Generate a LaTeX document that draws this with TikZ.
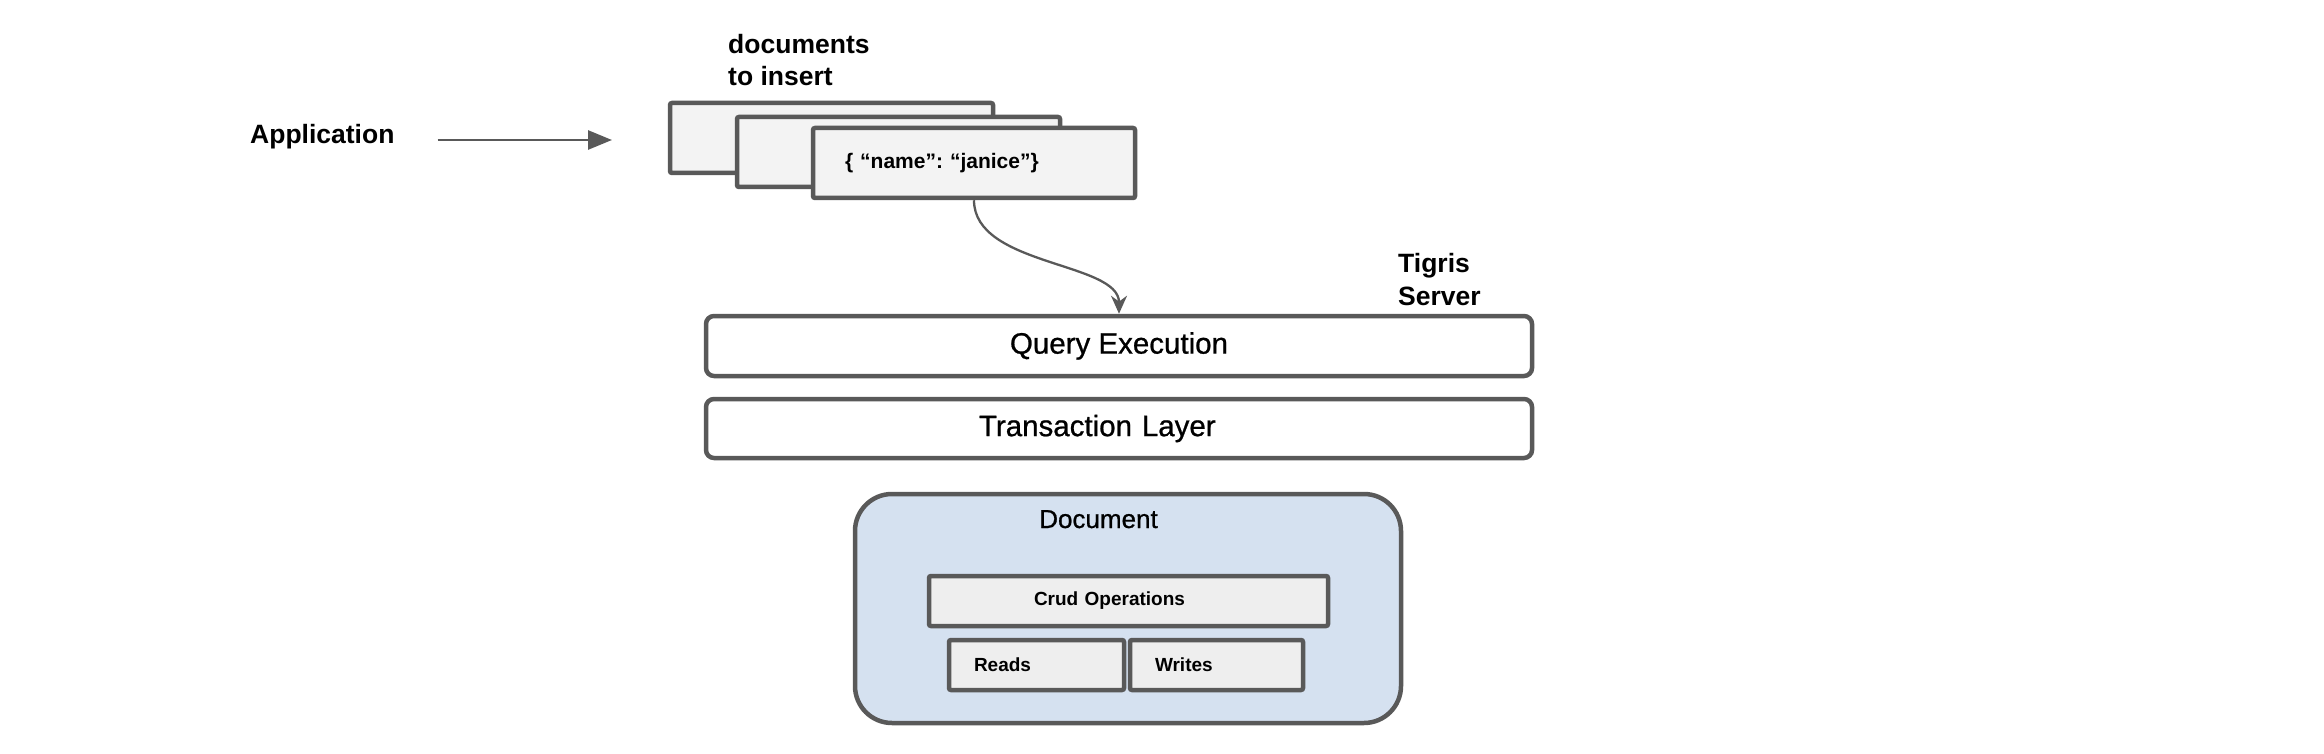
\documentclass[tikz,border=0pt]{standalone}
\usepackage{fontspec}
\setmainfont{Liberation Sans}
\newfontfamily\layerfont[FakeBold=0.8]{Liberation Sans}
\usetikzlibrary{arrows.meta}
\definecolor{edge}{HTML}{595959}
\definecolor{cardfill}{HTML}{F3F3F3}
\definecolor{opsfill}{HTML}{EEEEEE}
\definecolor{docfill}{HTML}{D5E1F0}

\tikzset{
  heading/.style={font=\bfseries\fontsize{26.5}{32.5}\selectfont, inner sep=0pt, align=left},
  card/.style={draw=edge, line width=4.5pt, fill=cardfill, rounded corners=2pt, minimum height=70pt, inner sep=0pt},
  layer/.style={draw=edge, line width=4.5pt, fill=white, rounded corners=8pt, minimum width=826pt, minimum height=60pt, font=\layerfont\fontsize{29.5}{34}\selectfont},
  ops/.style={draw=edge, line width=4.5pt, fill=opsfill, rounded corners=2pt, minimum height=50pt, inner sep=0pt, font=\bfseries\fontsize{19}{22}\selectfont},
  flow/.style={draw=edge, line width=2.7pt, -{Triangle[length=24pt,width=19pt]}},
  curvy/.style={draw=edge, line width=2.3pt, -{Stealth[length=18pt,width=16pt]}}
}

\begin{document}
\frenchspacing
\begin{tikzpicture}[x=1pt,y=-1pt]
    \useasboundingbox (0,0) rectangle (2324,754);
    \node[heading, anchor=base west] (app) at (250,144) {Application};
    \coordinate (apptip) at (612,140);
    \draw[flow] ([xshift=43pt]app.east |- apptip) -- (apptip);
    \node[heading, anchor=base west] (batch) at (728,86) {documents\\to insert};  %base = letzte Zeile
    \node[heading, anchor=base west] (tigris) at (1398,305) {Tigris\\Server};
    % stacked documents
    \foreach \i/\x/\y in {1/831.5/138, 2/898.5/152}
      \node[card, minimum width=323pt] (doc\i) at (\x,\y) {};
    \node[card, minimum width=322pt, text width=258pt, inner xsep=32pt, align=left,
      font=\bfseries\fontsize{21}{25}\selectfont] (doc3) at (974,163) {\{ “name”: “janice”\}};
    % server layers
    \node[layer] (query) at (1119,346) {Query Execution};
    \node[layer, minimum height=59pt, text width=280pt, inner xsep=273pt, align=left] (txn) at (1119,428.5) {Transaction Layer};
    \draw[curvy] (doc3.south) .. controls +(0,66) and +(0,-52) .. (query.north);
    % document store
    \node[draw=edge, line width=4.5pt, fill=docfill, rounded corners=37pt,
      minimum width=546pt, minimum height=229pt] (docbox) at (1128,608.5) {};
    \node[font=\layerfont\fontsize{26}{30}\selectfont, anchor=base, inner sep=0pt] (doctitle) at (1098.5,528) {Document};
    \node[ops, minimum width=399pt, text width=189pt, inner xsep=105pt, align=left] (crud) at (1128.5,601) {Crud Operations};
    \foreach \name/\x/\w/\tw/\txt in {reads/1036.5/175/125/Reads, writes/1216.5/173/123/Writes}
      \node[ops, minimum width=\w pt, text width=\tw pt, inner xsep=25pt, align=left] (\name) at (\x,665) {\txt};
\end{tikzpicture}
\end{document}
